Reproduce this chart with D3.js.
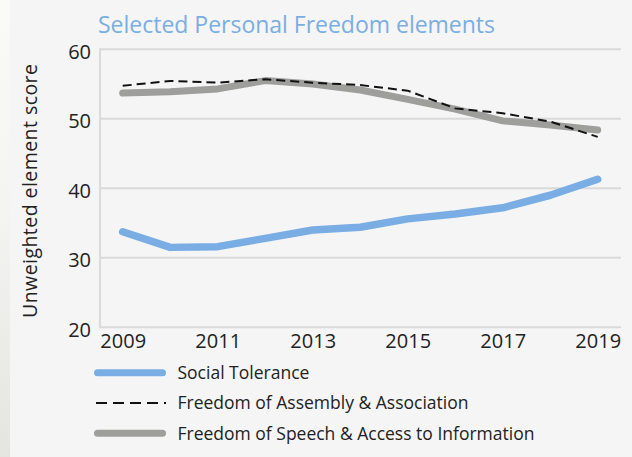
<!DOCTYPE html>
<html>
<head>
<meta charset="utf-8">
<script src="https://cdn.jsdelivr.net/npm/d3@7"></script>
<style>
  body { margin: 0; background: #f5f5f5; }
  svg { display: block; font-family: "Open Sans", "Noto Sans", sans-serif; }
</style>
</head>
<body>
<svg width="632" height="457"></svg>
<script>
const years = [2009, 2010, 2011, 2012, 2013, 2014, 2015, 2016, 2017, 2018, 2019];
const socialTolerance = [33.75, 31.5, 31.6, 32.8, 34.0, 34.4, 35.6, 36.3, 37.2, 39.0, 41.3];
const assembly = [54.75, 55.45, 55.2, 55.7, 55.2, 54.85, 54.05, 51.5, 50.8, 49.6, 47.4];
const speech = [53.7, 53.9, 54.3, 55.5, 55.0, 54.15, 52.8, 51.4, 49.7, 49.1, 48.4];
const yTicks = [20, 30, 40, 50, 60];
const xTicks = [2009, 2011, 2013, 2015, 2017, 2019];

const svg = d3.select("svg");

// faint shadow strip on the left edge
const grad = svg.append("defs").append("linearGradient")
  .attr("id", "edge").attr("x1", 0).attr("y1", 0).attr("x2", 0).attr("y2", 1);
grad.append("stop").attr("offset", "0%").attr("stop-color", "#fafaf8");
grad.append("stop").attr("offset", "45%").attr("stop-color", "#f4f4f2");
grad.append("stop").attr("offset", "100%").attr("stop-color", "#e4e4e0");
svg.append("rect").attr("x", 0).attr("y", 0).attr("width", 10).attr("height", 457)
  .attr("fill", "url(#edge)");

const x = d3.scaleLinear().domain([2009, 2019]).range([122.7, 597.7]);
const y = d3.scaleLinear().domain([20, 60]).range([327.3, 49.3]);
const left = 100, right = 621;

// title
svg.append("text")
  .attr("x", 98).attr("y", 32.5)
  .attr("fill", "#7aaee2")
  .attr("font-size", 23)
  .attr("textLength", 397)
  .text("Selected Personal Freedom elements");

// gridlines
svg.append("g").selectAll("line")
  .data(yTicks)
  .join("line")
  .attr("x1", left).attr("x2", right)
  .attr("y1", d => y(d)).attr("y2", d => y(d))
  .attr("stroke", "#dadada").attr("stroke-width", 2);

svg.append("line")
  .attr("x1", left).attr("x2", left)
  .attr("y1", y(60) - 1).attr("y2", y(20) + 1)
  .attr("stroke", "#dadada").attr("stroke-width", 2);

// y axis labels
const yAxis = svg.append("g")
  .attr("transform", `translate(91,0)`)
  .call(d3.axisLeft(y).tickValues(yTicks).tickSize(0).tickPadding(0));
yAxis.select(".domain").remove();
yAxis.selectAll("text")
  .attr("font-size", 20).attr("fill", "#222")
  .attr("font-family", "'Open Sans', sans-serif")
  .attr("dy", "0.45em");

// x axis labels
const xAxis = svg.append("g")
  .attr("transform", `translate(0,${y(20)})`)
  .call(d3.axisBottom(x).tickValues(xTicks).tickFormat(d3.format("d")).tickSize(0).tickPadding(0));
xAxis.select(".domain").remove();
xAxis.selectAll("text")
  .attr("font-size", 20).attr("fill", "#222")
  .attr("font-family", "'Open Sans', sans-serif")
  .attr("y", 21).attr("dy", 0);

// y axis title
svg.append("text")
  .attr("transform", `translate(37,191) rotate(-90)`)
  .attr("text-anchor", "middle")
  .attr("font-size", 19.5).attr("fill", "#222")
  .attr("textLength", 254)
  .text("Unweighted element score");

const line = d3.line().x((d, i) => x(years[i])).y(d => y(d));

svg.append("path").datum(speech)
  .attr("d", line).attr("fill", "none")
  .attr("stroke", "#9e9e9d").attr("stroke-width", 7)
  .attr("stroke-linecap", "round").attr("stroke-linejoin", "round");

svg.append("path").datum(assembly)
  .attr("d", line).attr("fill", "none")
  .attr("stroke", "#111").attr("stroke-width", 2)
  .attr("stroke-dasharray", "9,5");

svg.append("path").datum(socialTolerance)
  .attr("d", line).attr("fill", "none")
  .attr("stroke", "#79ade3").attr("stroke-width", 7.5)
  .attr("stroke-linecap", "round").attr("stroke-linejoin", "round");

// legend
const legend = [
  {name: "Social Tolerance", color: "#79ade3", width: 7, dash: null},
  {name: "Freedom of Assembly & Association", color: "#111", width: 2, dash: "11,6,11,6,11,6,11,6,2,100"},
  {name: "Freedom of Speech & Access to Information", color: "#9e9e9d", width: 7, dash: null}
];
const lg = svg.append("g").selectAll("g")
  .data(legend)
  .join("g")
  .attr("transform", (d, i) => `translate(0,${372.7 + i * 30.3})`);
lg.append("line")
  .attr("x1", d => d.dash ? 96 : 97.5).attr("x2", d => d.dash ? 166 : 162.5)
  .attr("stroke", d => d.color).attr("stroke-width", d => d.width)
  .attr("stroke-dasharray", d => d.dash)
  .attr("stroke-linecap", d => d.dash ? "butt" : "round");
lg.append("text")
  .attr("x", 177.5).attr("dy", "0.36em")
  .attr("font-size", 17.5).attr("fill", "#222")
  .text(d => d.name);
</script>
</body>
</html>
